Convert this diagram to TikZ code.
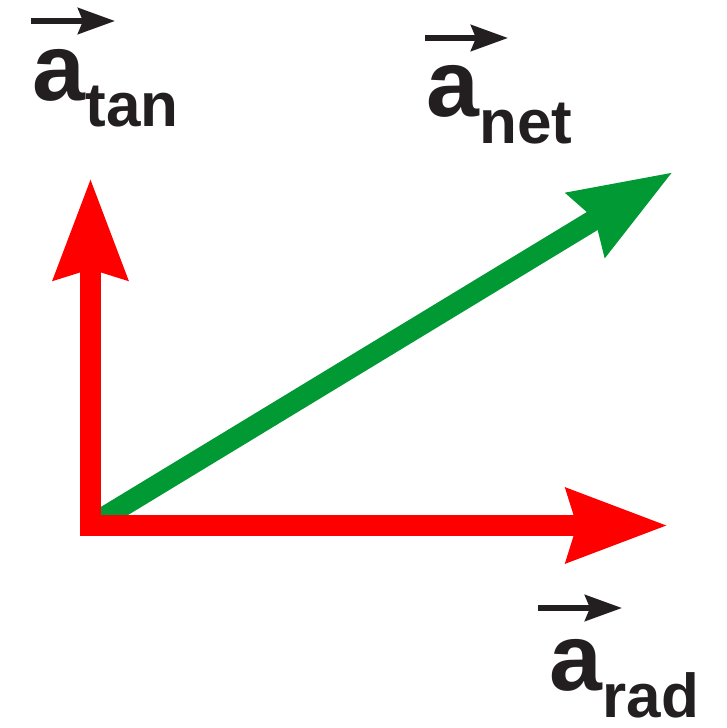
\documentclass[tikz,border=0pt]{standalone}
\usepackage{fontspec}
\setmainfont{Liberation Sans}
\usetikzlibrary{arrows.meta}
\definecolor{vecred}{RGB}{255,0,0}
\definecolor{vecgreen}{RGB}{0,153,51}
\definecolor{ink}{RGB}{35,31,32}

\begin{document}
\begin{tikzpicture}[x=1pt, y=-1pt,
    vec/.style={line width=21pt, -{Stealth[length=100pt,width=71pt,inset=9pt]}},
    overvec/.style={ink, line width=6pt, -{Stealth[length=37pt,width=26pt,inset=5pt]}},
    letter/.style={ink, inner sep=0pt, anchor=base west, font=\bfseries\fontsize{95}{95}\selectfont},
    sub/.style={ink, inner sep=0pt, anchor=base west, font=\bfseries\fontsize{62}{62}\selectfont}]
    \useasboundingbox (0,0) rectangle (727,728);
    % Vectors
    \coordinate (O) at (90.5,525.5);
    \coordinate (tanTip) at (90.5,178);
    \coordinate (radTip) at (668,525.5);
    \coordinate (netTip) at (673,172);
    \draw[vec, vecgreen] (O) -- (netTip);
    \draw[vec, vecred, line cap=rect] (O) -- (tanTip);
    \draw[vec, vecred, line cap=rect] (O) -- (radTip);
    % Labels
    \node[letter] (tanA) at (32,100) {a};
    \node[sub] (tanSub) at ([yshift=-26pt]tanA.base east) {tan};
    \coordinate (tanL) at (31,21);
    \coordinate (tanR) at (115,21);
    \draw[overvec] (tanL) -- (tanR);
    \node[letter] (netA) at (426,116) {a};
    \node[sub] (netSub) at ([yshift=-27pt]netA.base east) {net};
    \coordinate (netL) at (425,38);
    \coordinate (netR) at (508,38);
    \draw[overvec] (netL) -- (netR);
    \node[letter] (radA) at (549,690) {a};
    \node[sub] (radSub) at ([yshift=-27pt]radA.base east) {rad};
    \coordinate (radL) at (538,608);
    \coordinate (radR) at (622,608);
    \draw[overvec] (radL) -- (radR);
\end{tikzpicture}
\end{document}
